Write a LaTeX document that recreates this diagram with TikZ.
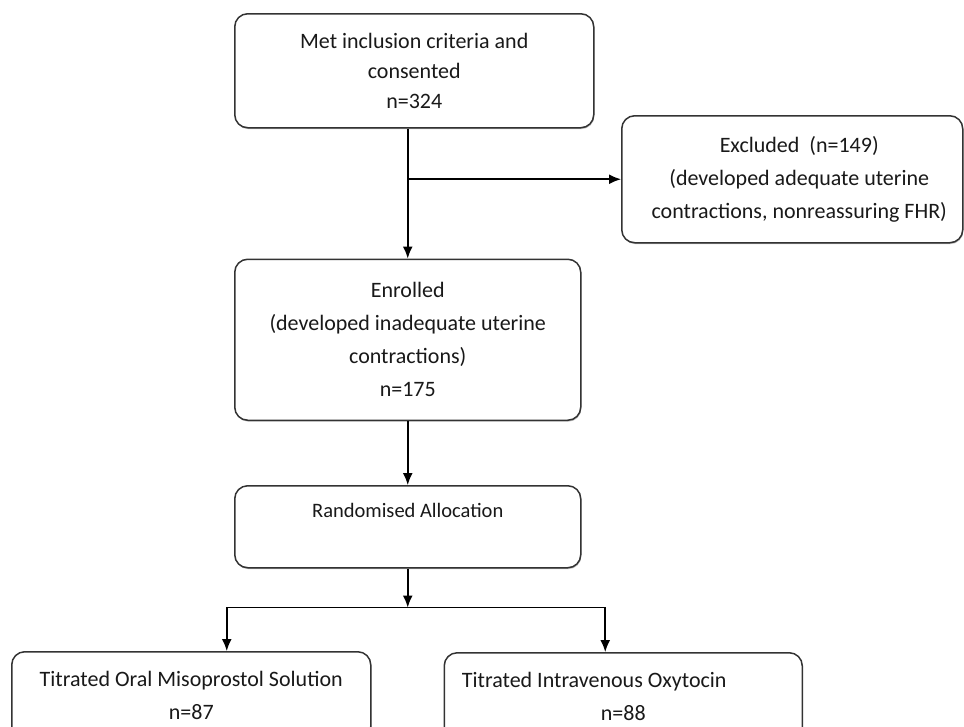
\documentclass[tikz,border=0pt]{standalone}
\usepackage{fontspec}
\setmainfont{Carlito}
\usetikzlibrary{positioning,arrows.meta,shadows}

\begin{document}
\begin{tikzpicture}[x=1pt,y=1pt,line width=1.6pt,
    >={Latex[length=12pt,width=10pt]},
    block/.style={draw=black!80, rounded corners=13pt, fill=white,
        align=center, text=black!90, line width=1.5pt,
        font=\fontsize{22pt}{33pt}\selectfont,
        drop shadow={shadow xshift=0.6pt,shadow yshift=-1.4pt,fill=black!50}}]
\clip (0,0) rectangle (964,-726);

% Inclusion block
\node[block,
    font=\fontsize{22pt}{30pt}\selectfont,
    minimum width=359pt, minimum height=114pt,
    anchor=north west
] (block1) at (234,-13) {Met inclusion criteria and\\ consented\\ n=324};

% Excluded block
\node[block,
    minimum width=341pt, minimum height=127pt,
    anchor=north west
] (block2) at (621,-115) {\hspace*{14pt}Excluded~~(n=149)\\ \hspace*{14pt}(developed adequate uterine\\ \hspace*{14pt}contractions, nonreassuring FHR)};

% Enrolled block
\node[block,
    minimum width=346pt, minimum height=161pt,
    below=130pt of block1.south west, anchor=north west
] (block3) {Enrolled\\ (developed inadequate uterine\\ contractions)\\ n=175};

% Randomisation block
\node[block,
    font=\fontsize{20.5pt}{24pt}\selectfont, text depth=32pt,
    minimum width=346pt, minimum height=82pt,
    below=64pt of block3.south west, anchor=north west
] (block4) {Randomised Allocation};

% Treatment blocks
\node[block,
    minimum width=359pt, minimum height=88pt,
    anchor=north west
] (block5) at (11,-651) {Titrated Oral Misoprostol Solution\\ n=87};

\node[block,
    minimum width=358pt, minimum height=88pt,
    right=72pt of block5.north east, anchor=north west, yshift=-1pt
] (block6) {Titrated Intravenous Oxytocin\hspace*{58pt}\\ n=88};

% Arrows
\coordinate (split) at (block2.west -| block3.north);
\draw (block1.south -| block3.north) -- (split);
\draw[->] (split) -- (block3.north);
\draw[->] (split) -- (block2.west);
\draw[->] (block3.south) -- (block4.north);

\coordinate[below=39pt of block4.south] (fork);
\coordinate (dropL) at ([xshift=35.5pt]block5.north);
\coordinate (dropR) at ([xshift=-18pt]block6.north);
\draw[->] (block4.south) -- (fork);
\draw[->] (fork) -| (dropL);
\draw[->] (fork) -| (dropR);

\end{tikzpicture}
\end{document}
